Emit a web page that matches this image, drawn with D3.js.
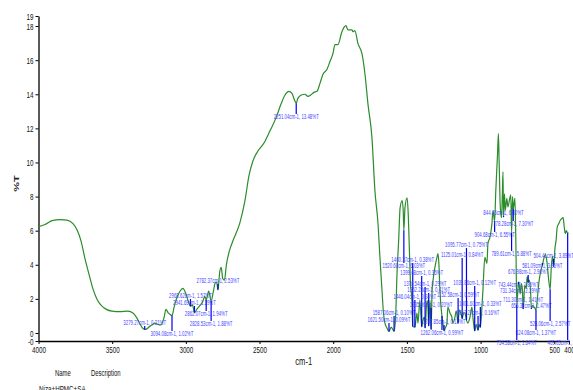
<!DOCTYPE html>
<html>
<head>
<meta charset="utf-8">
<script src="https://cdn.jsdelivr.net/npm/d3@7/dist/d3.min.js"></script>
<style>
  body { margin: 0; background: #fff; }
  svg { display: block; font-family: "Liberation Sans", Arial, sans-serif; }
</style>
</head>
<body>
<svg id="chart" width="573" height="390"></svg>
<script>
// spectrum (cm-1, %T)
const wavenumbers = [
  4000, 3956, 3908, 3854, 3807, 3766, 3739, 3712, 3685, 3657, 3630, 3603, 3576, 3542, 3501, 3447,
  3393, 3359, 3332, 3311, 3291, 3279.27, 3265, 3250, 3230, 3210, 3189, 3169, 3149, 3135, 3121, 3108,
  3094.08, 3080, 3067, 3040, 3020, 3000, 2985, 2968.62, 2955, 2941.69, 2925, 2905, 2885, 2872,
  2862.07, 2845, 2828.53, 2812, 2800, 2790, 2782.37, 2770, 2760, 2750, 2738, 2725, 2705, 2680,
  2633, 2599, 2572, 2545, 2511, 2470, 2430, 2389, 2355, 2328, 2301, 2280, 2260, 2251.04, 2240,
  2219, 2192, 2172, 2151, 2131, 2110, 2090, 2070, 2043, 2022, 2002, 1988, 1968, 1941, 1914, 1900,
  1873, 1866, 1853, 1832, 1805, 1785, 1764, 1737, 1717, 1696, 1683, 1669, 1659, 1649, 1635,
  1621.5, 1607, 1597, 1587.06, 1577, 1567, 1556, 1546, 1532, 1525, 1520.68, 1513, 1499, 1492,
  1485, 1476, 1466, 1460.37, 1446.04, 1432, 1425, 1412, 1399.68, 1391, 1381, 1376.54, 1364, 1357,
  1352.23, 1343, 1335.96, 1329, 1320, 1310, 1296, 1289, 1283, 1276, 1262.06, 1256, 1247.85, 1237,
  1229, 1222, 1208, 1195, 1188, 1174, 1165, 1152.58, 1145, 1132, 1125.01, 1115, 1106, 1095.77,
  1086, 1072, 1059, 1052, 1039.86, 1030, 1017.27, 1010, 1001.6, 995, 991, 984, 971, 957, 950,
  937, 923, 916, 904.68, 897, 885, 879, 874, 866, 858, 852, 848, 844.46, 838, 832, 822, 815, 802,
  795, 789.61, 783, 778.28, 772, 767, 760, 754.38, 747, 743.44, 740, 731.34, 723, 716, 711.3,
  700, 690, 684, 676.98, 668, 660, 655.32, 645, 635, 624.08, 615, 605, 595, 581.09, 570, 560,
  550, 540, 528.06, 520, 512, 504.41, 495, 488, 480, 470, 460, 450, 440, 432, 425, 418, 409.05, 405
];
const transmittance = [
  6.24, 6.36, 6.59, 6.65, 6.62, 6.41, 6.06, 5.42, 4.37, 3.44, 2.57, 1.98, 1.63, 1.40, 1.28, 1.25,
  1.28, 1.17, 0.87, 0.52, 0.26, 0.21, 0.24, 0.35, 0.47, 0.58, 0.50, 0.47, 0.87, 1.38, 1.20, 1.10,
  1.02, 1.50, 1.92, 2.45, 2.62, 2.30, 1.90, 1.57, 1.65, 1.19, 1.40, 1.60, 1.85, 2.15,
  1.94, 2.45, 1.88, 2.50, 2.95, 2.95, 2.53, 3.60, 3.85, 3.20, 3.10, 4.00, 4.80, 5.42,
  6.47, 7.76, 9.21, 10.09, 10.67, 11.14, 11.84, 12.60, 13.41, 13.94, 14.17, 14.05, 13.60, 13.48, 13.76,
  13.94, 14.00, 13.88, 13.97, 14.11, 14.17, 14.64, 15.16, 15.45, 15.92, 16.38, 16.91, 16.91, 17.67, 18.02, 17.78,
  17.78, 17.67, 17.73, 16.97, 16.38, 15.22, 13.41, 11.43, 8.34, 6.41, 4.43, 2.51, 1.17, 0.58, 0.29,
  0.09, 0.35, 0.23, 0.10, 0.87, 3.50, 5.42, 7.35, 7.76, 7.17, 6.03, 7.35, 7.93, 7.17,
  5.42, 2.92, 1.92, 0.38, 0.34, 1.17, 0.58, 1.92, 0.36, 0.76, 0.93, 0.29, 1.92, 1.52,
  0.41, 1.92, 0.20, 2.50, 3.27, 3.85, 4.43, 4.66, 4.08, 2.51, 0.99, 0.58, 0.13, 0.35,
  0.50, 1.52, 1.17, 0.93, 0.58, 0.93, 1.30, 0.59, 1.34, 1.10, 0.84, 1.20, 1.17, 0.75,
  0.58, 0.93, 1.52, 0.93, 0.12, 0.50, 0.16, 0.50, 0.33, 0.90, 1.52, 2.51, 4.43, 4.08, 5.25,
  5.60, 6.41, 7.17, 6.55, 8.30, 10.50, 11.70, 10.00, 7.35, 6.76, 8.20, 9.45, 6.80, 8.16, 7.20, 7.90, 7.40, 7.90,
  8.10, 5.88, 8.00, 7.30, 7.60, 7.90, 5.00, 1.64, 2.50, 2.86, 3.00, 2.29, 2.90, 2.50, 1.41,
  2.80, 2.60, 3.30, 2.96, 3.10, 2.30, 1.47, 1.60, 1.50, 1.37, 2.00, 2.90, 3.50, 3.96, 4.40, 4.60,
  4.20, 3.30, 2.57, 3.90, 4.50, 3.89, 5.00, 5.40, 6.20, 6.40, 6.60, 6.70, 6.76, 6.20, 5.83, 6.00, 5.85, 5.90
];

// peak picks: position, value, and the %T level the label sits at
const peakWn = [
  3279.27, 3094.08, 2968.62, 2941.69, 2862.07, 2828.53, 2782.37, 2251.04,
  1621.5, 1587.06, 1520.68, 1460.37, 1399.68, 1376.54, 1352.23, 1446.04, 1335.96,
  1247.85, 1262.06, 1095.77, 1125.01, 1039.86, 1152.58, 1017.27, 1001.6,
  904.68, 844.46, 778.28, 789.61, 504.41, 581.09, 676.98, 743.44, 731.34, 711.3,
  655.32, 528.06, 624.08, 754.38, 409.05
];
const peakT = [
  0.21, 1.02, 1.57, 1.19, 1.94, 1.88, 2.53, 13.48,
  0.09, 0.10, 6.03, 0.38, 0.36, 0.29, 0.41, 0.34, 0.20,
  0.13, 0.99, 0.75, 0.84, 0.12, 0.59, 0.16, 0.33,
  6.55, 6.80, 7.30, 5.88, 3.89, 3.96, 2.96, 2.86, 2.29, 1.41,
  1.47, 2.57, 1.37, 1.64, 5.85
];
const peakLabelT = [
  0.47, -0.18, 2.05, 1.64, 1.0, 0.41, 2.93, 12.55,
  0.65, 1.06, 3.81, 4.16, 3.4, 2.76, 2.4, 1.99, 1.52,
  0.53, -0.12, 5.04, 4.46, 2.82, 2.11, 1.06, 1.58,
  5.63, 6.92, 6.28, 4.52, 4.4, 3.81, 3.46, 2.7, 2.35, 1.82,
  1.47, 0.41, -0.12, -0.7, -0.7
];

const xDomain = [4000, 400];
const yDomain = [-0.47, 18.59];
const xTicks = [4000, 3500, 3000, 2500, 2000, 1500, 1000, 500, 400];
const yTicks = [-0.47, 0, 2, 4, 6, 8, 10, 12, 14, 16, 18, 18.59];
const yTickLabels = ['-0', '0', '2', '4', '6', '8', '10', '12', '14', '16', '18', '19'];

const svg = d3.select('#chart');
const plotLeft = 38.5, plotRight = 569, plotTop = 16, plotBottom = 341;
const squeeze = 0.66;   // the whole picture is narrowed, text included

const x = d3.scaleLinear().domain(xDomain).range([plotLeft, plotRight]);
const y = d3.scaleLinear().domain(yDomain).range([plotBottom, plotTop]);

// axes
const xAxis = svg.append('g')
  .attr('transform', `translate(0,${plotBottom})`)
  .call(d3.axisBottom(x).tickValues(xTicks).tickFormat(d3.format('d')).tickSize(3).tickSizeOuter(0));
const yAxis = svg.append('g')
  .attr('transform', `translate(${plotLeft},0)`)
  .call(d3.axisLeft(y).tickValues(yTicks).tickFormat((d, i) => yTickLabels[i]).tickSize(3).tickSizeOuter(0));

[xAxis, yAxis].forEach(a => {
  a.select('.domain').attr('stroke', '#000').attr('stroke-width', 1.3);
  a.selectAll('.tick line').attr('stroke', '#000');
  a.selectAll('.tick text')
    .attr('font-family', '"Liberation Sans", Arial, sans-serif')
    .attr('font-size', 9.5)
    .attr('fill', '#111');
});
xAxis.selectAll('.tick text').attr('y', 5).attr('transform', `scale(${squeeze},1)`);
yAxis.selectAll('.tick text').attr('x', -5 / squeeze).attr('transform', `scale(${squeeze},1)`);

function squeezedText(px, py, str, size, anchor) {
  return svg.append('g')
    .attr('transform', `translate(${px},${py}) scale(${squeeze},1)`)
    .append('text')
    .attr('text-anchor', anchor)
    .attr('font-size', size)
    .text(str);
}

// spectrum
const pts = wavenumbers.map((w, i) => [w, transmittance[i]]);
svg.append('path')
  .datum(pts)
  .attr('fill', 'none')
  .attr('stroke', '#2a8c2a')
  .attr('stroke-width', 1.2)
  .attr('stroke-linejoin', 'round')
  .attr('d', d3.line().x(d => x(d[0])).y(d => y(d[1])).curve(d3.curveMonotoneX));

// peak markers and labels
peakWn.forEach((w, i) => {
  const px = x(w);
  const py = y(peakT[i]);
  const ly = y(peakLabelT[i]);
  const end = ly > py ? ly - 5 : ly + 1;
  svg.append('line')
    .attr('x1', px).attr('x2', px)
    .attr('y1', py).attr('y2', end)
    .attr('stroke', '#0000ee')
    .attr('stroke-width', 1.2);
  squeezedText(px, ly, `${w.toFixed(2)}cm-1, ${peakT[i].toFixed(2)}%T`, 6.6, 'middle')
    .attr('fill', '#4848ff');
});

// axis titles and footer
squeezedText((plotLeft + plotRight) / 2, 365, 'cm-1', 11.5, 'middle').attr('fill', '#111');
svg.append('g')
  .attr('transform', `translate(19,${(plotTop + plotBottom) / 2 + 5}) scale(${squeeze},1) rotate(-90)`)
  .append('text')
  .attr('text-anchor', 'middle')
  .attr('font-size', 11)
  .attr('font-weight', 'bold')
  .attr('fill', '#222')
  .text('%T');

squeezedText(55, 376, 'Name', 9, 'start').attr('fill', '#111');
squeezedText(91, 376, 'Description', 9, 'start').attr('fill', '#111');
squeezedText(39, 392, 'Niza+HPMC+SA', 9.5, 'start').attr('fill', '#111');
</script>
</body>
</html>
